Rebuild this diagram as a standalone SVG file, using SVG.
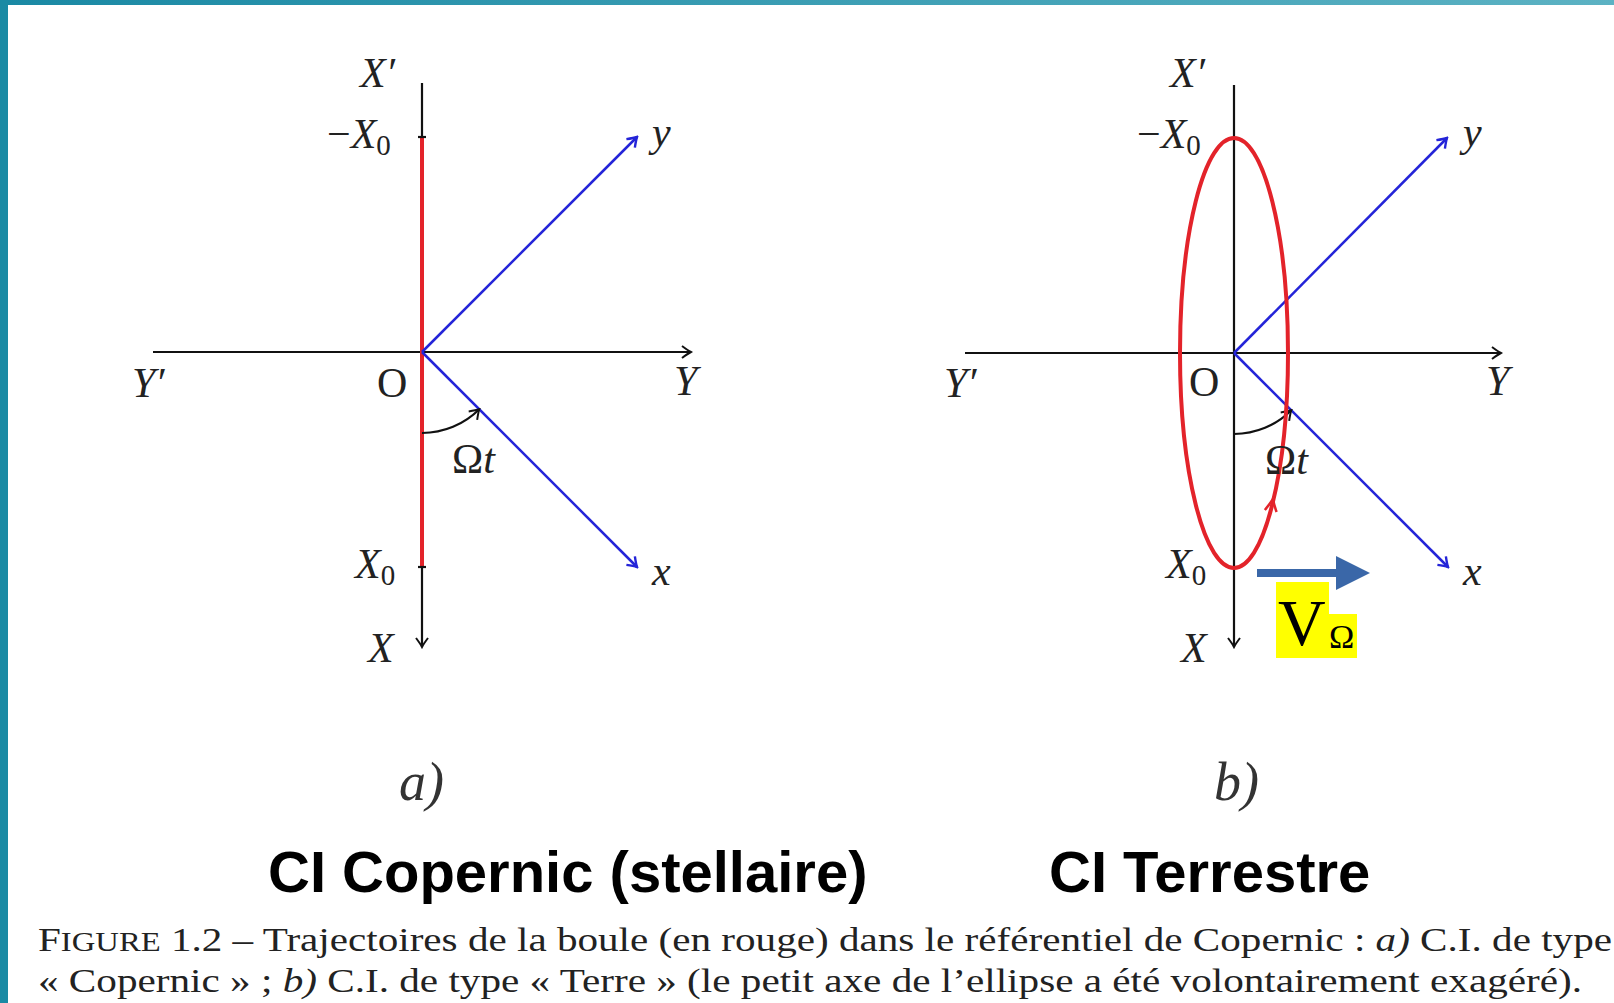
<svg xmlns="http://www.w3.org/2000/svg" width="1614" height="1003" viewBox="0 0 1614 1003">
<style>
.lbl{font-family:"Liberation Serif","Times New Roman",serif;font-size:42px;font-style:italic;fill:#222}
.rm{font-style:normal}
.sub{font-style:normal;font-size:29px}
.axis{stroke:#111;stroke-width:2.2;fill:none}
.blue{stroke:#2424d8;stroke-width:2.5;fill:none}
.red{stroke:#e3232a;stroke-width:4;fill:none}
.title{font-family:"Liberation Sans",Arial,sans-serif;font-weight:bold;font-size:58px;fill:#000}
.cap{font-family:"Liberation Serif","Times New Roman",serif;font-size:34px;fill:#222}
.it{font-style:italic}
.sc{font-size:27px}
.panel{font-family:"Liberation Serif","Times New Roman",serif;font-style:italic;font-size:54px;fill:#333}
</style>
<defs>
<marker id="ab" viewBox="-12 -10 14 20" markerWidth="14" markerHeight="20" refX="0" refY="0" orient="auto" markerUnits="userSpaceOnUse">
<path d="M-9,-6 Q-3,-1.5 0,0 Q-3,1.5 -9,6" fill="none" stroke="#111" stroke-width="2"/>
</marker>
<marker id="abl" viewBox="-12 -10 14 20" markerWidth="14" markerHeight="20" refX="0" refY="0" orient="auto" markerUnits="userSpaceOnUse">
<path d="M-9,-6 Q-3,-1.5 0,0 Q-3,1.5 -9,6" fill="none" stroke="#2424d8" stroke-width="2.4"/>
</marker>
<linearGradient id="tg" x1="0" y1="0" x2="1" y2="0">
<stop offset="0" stop-color="#1a89a4"/>
<stop offset="1" stop-color="#5cb2c3"/>
</linearGradient>
</defs>
<rect width="1614" height="1003" fill="#fff"/>
<rect x="0" y="0" width="1614" height="5" fill="url(#tg)"/>
<rect x="0" y="0" width="8" height="1003" fill="#1a8aa4"/>

<g id="connectors">
<!-- left diagram -->
<line class="axis" x1="422" y1="83" x2="422" y2="647" marker-end="url(#ab)"/>
<line class="axis" x1="153" y1="352" x2="691" y2="352" marker-end="url(#ab)"/>
<line class="red" x1="422" y1="137" x2="422" y2="567"/>
<line class="axis" x1="418" y1="137" x2="426" y2="137"/>
<line class="axis" x1="418" y1="567" x2="426" y2="567"/>
<line class="blue" x1="422" y1="352" x2="637" y2="137" marker-end="url(#abl)"/>
<line class="blue" x1="422" y1="352" x2="637" y2="567" marker-end="url(#abl)"/>
<path class="axis" d="M422,433 A81,81 0 0 0 479.3,409.3" marker-end="url(#ab)"/>
<!-- right diagram -->
<line class="axis" x1="1234" y1="85" x2="1234" y2="647" marker-end="url(#ab)"/>
<line class="axis" x1="965" y1="353" x2="1501" y2="353" marker-end="url(#ab)"/>
<line class="blue" x1="1234" y1="353" x2="1447" y2="138" marker-end="url(#abl)"/>
<line class="blue" x1="1234" y1="353" x2="1448" y2="567" marker-end="url(#abl)"/>
<path class="axis" d="M1234,434 A81,81 0 0 0 1291.3,410.3" marker-end="url(#ab)"/>
<ellipse class="red" cx="1234" cy="353" rx="54" ry="215" stroke-width="3.5"/>
<path d="M1264.8,510 Q1270,504 1273,499 Q1274,505 1276.6,512" fill="none" stroke="#e3232a" stroke-width="2.5"/>
<g id="v-omega-arrow">
<rect x="1257" y="569" width="82" height="8" fill="#3a67a8"/>
<polygon points="1336,556 1370,573 1336,590" fill="#3a67a8"/>
</g>
</g>

<g id="left-labels">
<text class="lbl" x="360" y="87">X′</text>
<text class="lbl" x="327" y="148"><tspan class="rm">−</tspan>X<tspan class="sub" dy="7">0</tspan></text>
<text class="lbl" x="652" y="146">y</text>
<text class="lbl" x="132" y="397">Y′</text>
<text class="lbl rm" x="377" y="397">O</text>
<text class="lbl" x="674" y="395">Y</text>
<text class="lbl" x="452" y="473"><tspan class="rm">Ω</tspan>t</text>
<text class="lbl" x="355" y="578">X<tspan class="sub" dy="7">0</tspan></text>
<text class="lbl" x="652" y="585">x</text>
<text class="lbl" x="368" y="662">X</text>
</g>

<g id="right-labels">
<text class="lbl" x="1170" y="87">X′</text>
<text class="lbl" x="1137" y="148"><tspan class="rm">−</tspan>X<tspan class="sub" dy="7">0</tspan></text>
<text class="lbl" x="1463" y="146">y</text>
<text class="lbl" x="944" y="397">Y′</text>
<text class="lbl rm" x="1189" y="396">O</text>
<text class="lbl" x="1486" y="395">Y</text>
<text class="lbl" x="1265" y="474"><tspan class="rm">Ω</tspan>t</text>
<text class="lbl" x="1166" y="578">X<tspan class="sub" dy="7">0</tspan></text>
<text class="lbl" x="1463" y="585">x</text>
<text class="lbl" x="1181" y="662">X</text>
</g>

<g id="v-omega">
<rect x="1276" y="582" width="53" height="76" fill="#ffff00"/>
<rect x="1328" y="614" width="29" height="44" fill="#ffff00"/>
<text x="1278" y="645" font-family="'Liberation Serif','Times New Roman',serif" font-size="66" fill="#000">V</text>
<text x="1329" y="648" font-family="'Liberation Serif','Times New Roman',serif" font-size="34" fill="#000">Ω</text>
</g>

<g id="panel-labels">
<text class="panel" x="399" y="800">a)</text>
<text class="panel" x="1214" y="800">b)</text>
</g>

<g id="titles">
<text class="title" x="268" y="892">CI Copernic (stellaire)</text>
<text class="title" x="1049" y="892">CI Terrestre</text>
</g>

<g id="caption">
<text class="cap" x="38" y="951" textLength="1574" lengthAdjust="spacingAndGlyphs">F<tspan class="sc">IGURE</tspan> 1.2 – Trajectoires de la boule (en rouge) dans le référentiel de Copernic : <tspan class="it">a)</tspan> C.I. de type</text>
<text class="cap" x="38" y="992" textLength="1544" lengthAdjust="spacingAndGlyphs">« Copernic » ; <tspan class="it">b)</tspan> C.I. de type « Terre » (le petit axe de l’ellipse a été volontairement exagéré).</text>
</g>
</svg>
